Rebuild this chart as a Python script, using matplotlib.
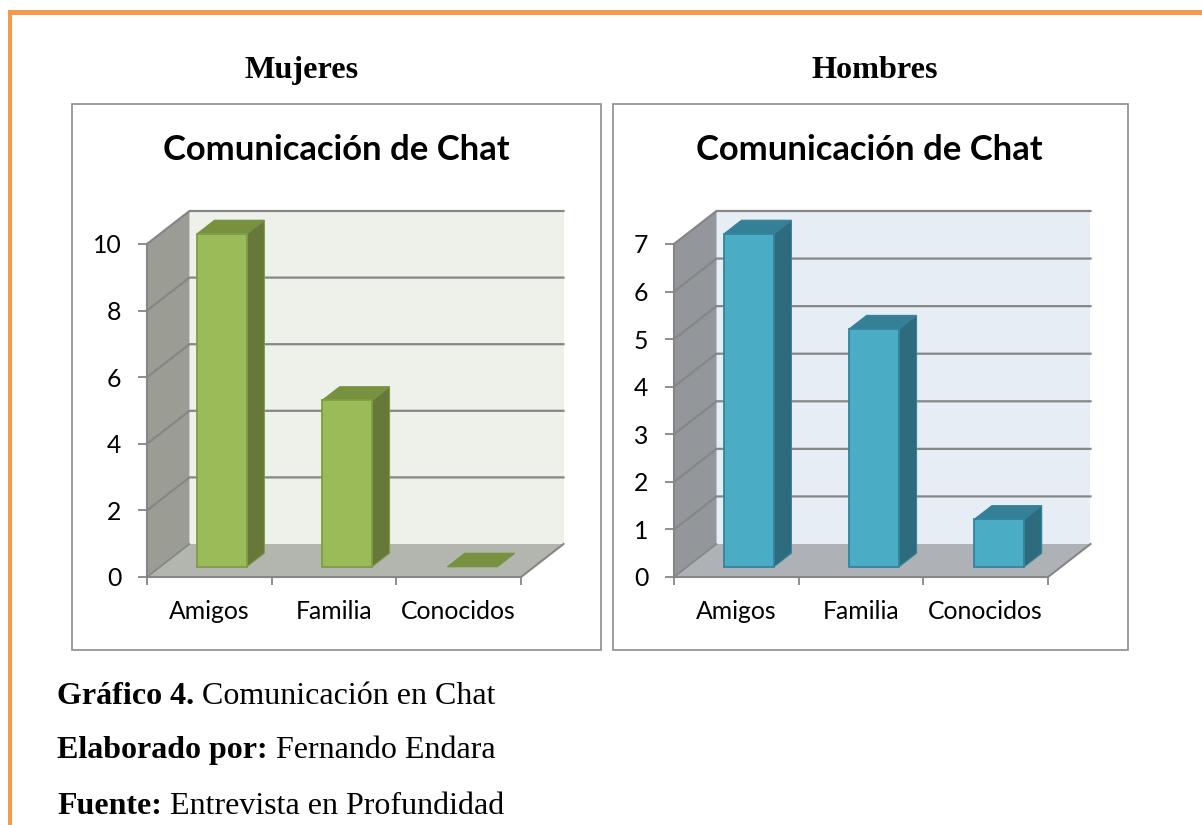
import matplotlib
matplotlib.use("Agg")
import matplotlib.pyplot as plt
from matplotlib.patches import Polygon, Rectangle

W, H = 1202, 825

categories = ["Amigos", "Familia", "Conocidos"]
mujeres = [10, 5, 0]
hombres = [7, 5, 1]
mujeres_ticks = [0, 2, 4, 6, 8, 10]
hombres_ticks = [0, 1, 2, 3, 4, 5, 6, 7]

DEPTH_X = 42.5  # px of the 3d offset
DEPTH_Y = 33.0
PLOT_W = 374.0
PLOT_H = 333.0
BAR_W = 0.4
BAR_SPREAD = 1.004  # bars sit slightly wider apart than the ticks
D0, D1 = 0.31, 0.72  # bar position along the depth

plt.rcParams["font.family"] = "Lato"
fig = plt.figure(figsize=(W / 100, H / 100), dpi=100, facecolor="white")

# page layer in pixels
bg = fig.add_axes([0, 0, 1, 1], zorder=0)
bg.set_xlim(0, W)
bg.set_ylim(H, 0)
bg.axis("off")
bg.add_patch(Rectangle((8, 10), W, 4.5, color="#F9984A", lw=0))
bg.add_patch(Rectangle((8, 10), 4.2, H, color="#F9984A", lw=0))


def panel(x0, box, values, ticks, ymax, colors, title, title_x, heading, head_x):
    bx0, bx1 = box
    bg.add_patch(Rectangle((bx0, 103.5), bx1 - bx0, 546.5, fc="white", ec="#8C8C8C", lw=1.2))
    bg.text(head_x, 70.5, heading, family="Liberation Serif", weight="bold",
            fontsize=23.2, ha="center", va="center")
    bg.text(title_x, 149.5, title, weight="bold", fontsize=24.9, ha="center", va="center")

    ax = fig.add_axes([x0 / W, 1 - 577 / H, PLOT_W / W, PLOT_H / H], zorder=1)
    ax.set_xlim(0, len(values))
    ax.set_ylim(0, ymax)
    ax.patch.set_visible(False)

    # 3d offset in data units
    ux = len(values) / PLOT_W
    uy = ymax / PLOT_H
    dx = DEPTH_X * ux
    dy = DEPTH_Y * uy
    n = len(values)

    def poly(pts, **kw):
        ax.add_patch(Polygon(pts, closed=True, clip_on=False, **kw))

    # back wall, side wall, floor
    poly([(dx, dy), (n + dx, dy), (n + dx, ymax + dy), (dx, ymax + dy)], fc=colors["back"], lw=0, zorder=1)
    poly([(0, 0), (dx, dy), (dx, ymax + dy), (0, ymax)], fc=colors["wall"], lw=0, zorder=1)
    poly([(0, 0), (n, 0), (n + dx, dy), (dx, dy)], fc=colors["floor"], lw=0, zorder=1)

    grid = "#868686"
    for t in ticks:
        if t > 0:
            ax.plot([0, dx, n + dx], [t, t + dy, t + dy], color=grid, lw=1.6, zorder=2,
                    clip_on=False, solid_joinstyle="miter")
    ax.plot([0, dx], [0, dy], color=grid, lw=1.2, zorder=2, clip_on=False)
    ax.plot([n, n + dx], [0, dy], color=grid, lw=1.5, zorder=2, clip_on=False)

    # bars
    for i, v in enumerate(values):
        center = n / 2 + (i + 0.5 - n / 2) * BAR_SPREAD
        left = center - BAR_W / 2 + D0 * dx
        right = left + BAR_W
        base = D0 * dy
        ddx = (D1 - D0) * dx
        ddy = (D1 - D0) * dy
        top = base + v
        ec = colors["edge"]
        if v > 0:
            poly([(right, base), (right + ddx, base + ddy), (right + ddx, top + ddy), (right, top)],
                 fc=colors["side"], ec=ec, lw=0.8, zorder=3)
            poly([(left, base), (right, base), (right, top), (left, top)],
                 fc=colors["face"], ec=ec, lw=1.3, zorder=4)
        poly([(left, top), (right, top), (right + ddx, top + ddy), (left + ddx, top + ddy)],
             fc=colors["top"], ec=colors["top"], lw=0.8, zorder=3)

    for s in ["top", "right"]:
        ax.spines[s].set_visible(False)
    for s in ["left", "bottom"]:
        ax.spines[s].set_color(grid)
        ax.spines[s].set_linewidth(1.5)
        ax.spines[s].set_zorder(5)

    ax.set_yticks(ticks)
    ax.set_yticklabels([str(t) for t in ticks])
    ax.set_xticks(range(n + 1))
    ax.set_xticklabels([])
    ax.set_xticks([i + 0.5 for i in range(n)], minor=True)
    ax.set_xticklabels(categories, minor=True)
    ax.tick_params(axis="x", which="major", length=6, width=1.3, color=grid)
    ax.tick_params(axis="x", which="minor", length=0, pad=16.5, labelsize=17.8)
    ax.tick_params(axis="y", length=6.5, width=1.3, color=grid, pad=12, labelsize=17.8)


green = {"back": "#EEF1EA", "wall": "#9B9D95", "floor": "#B3B6AF", "face": "#9BBB59",
         "side": "#66783A", "top": "#77913F", "edge": "#7F9C45"}
blue = {"back": "#E6EDF5", "wall": "#93969B", "floor": "#AEB2B7", "face": "#4BACC6",
        "side": "#2F6B7E", "top": "#358097", "edge": "#31859C"}

panel(147, (72, 601), mujeres, mujeres_ticks, 10, green, "Comunicación de Chat", 336, "Mujeres", 302)
panel(674, (612.5, 1128), hombres, hombres_ticks, 7, blue, "Comunicación de Chat", 869.5, "Hombres", 875)

# caption lines, bold part then regular part
captions = [("Gráfico 4.", "Comunicación en Chat", 704),
            ("Elaborado por:", "Fernando Endara", 758),
            ("Fuente:", "Entrevista en Profundidad", 814)]
renderer = fig.canvas.get_renderer()
for bold, rest, y in captions:
    t = bg.text(57, y, bold, family="Liberation Serif", weight="bold", fontsize=23, va="baseline")
    end = t.get_window_extent(renderer).x1
    bg.text(end + 8, y, rest, family="Liberation Serif", fontsize=23, va="baseline")

fig.savefig("out.png", dpi=100)
